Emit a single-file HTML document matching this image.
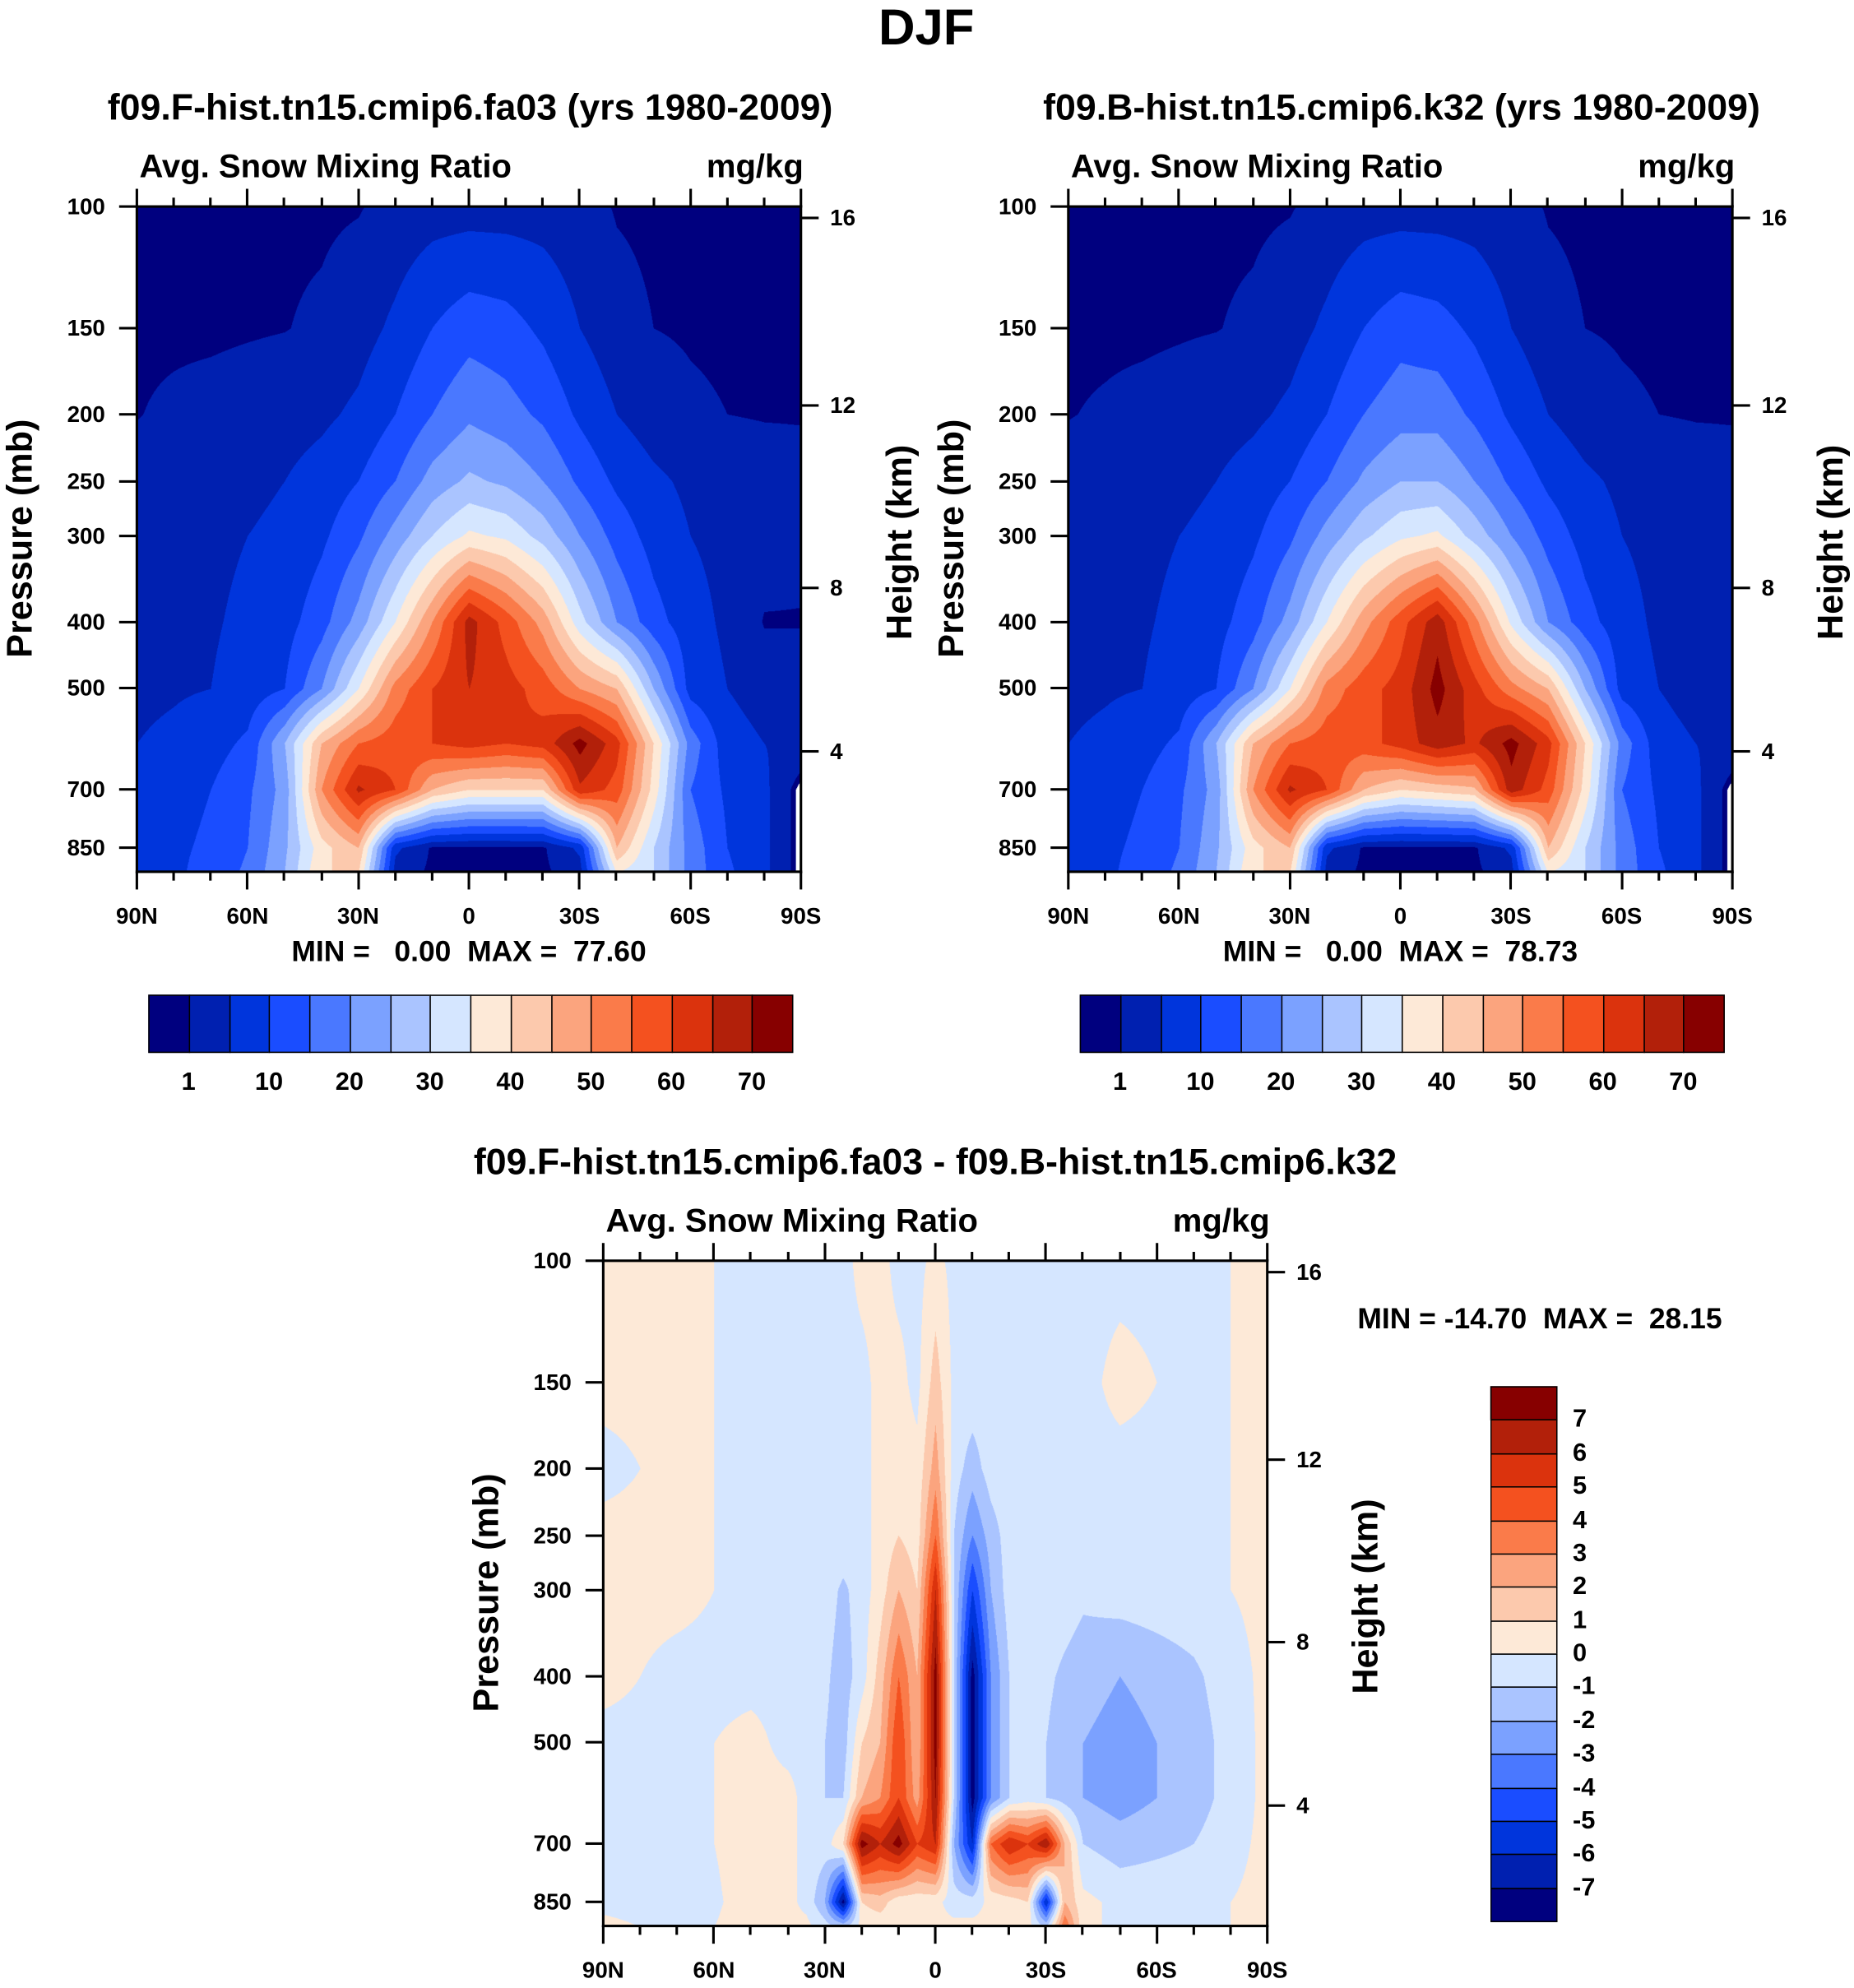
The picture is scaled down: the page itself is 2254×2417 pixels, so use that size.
<!DOCTYPE html>
<html><head><meta charset="utf-8">
<style>
html,body{margin:0;padding:0;background:#fff;}
body{width:2254px;height:2417px;overflow:hidden;}
#root{position:absolute;left:0;top:0;width:1463px;height:1569px;transform-origin:0 0;transform:scale(1.5407,1.5405);font-family:"Liberation Sans",Arial,sans-serif;font-weight:bold;color:#000;}
.t{position:absolute;white-space:nowrap;line-height:1;}
.ln{position:absolute;background:#000;}
canvas{position:absolute;}
</style></head>
<body>
<div id="root"></div>
<script>
// ---------- DATA ----------
const levs = [100,150,200,250,300,400,500,600,700,850,925];
const lats1 = [90,80,70,60,50,40,30,20,10,0,-10,-20,-30,-40,-50,-60,-70,-80,-90];
const gridF = [
 [0.5,0.5,0.5,0.5,0.5,0.5,0.8,2,3,3,3,3,2,0.8,0.5,0.5,0.5,0.5,0.5],
 [0.5,0.5,0.5,0.7,0.9,1.5,3,6,10,13,12,9,5,2,1,0.7,0.5,0.5,0.5],
 [0.9,1.5,2,2.5,3,4,6,10,15,19,17,14,9,5,2.5,1.5,1,0.8,0.8],
 [2,3,3.5,4,5,7,10,15,22,26,24,20,14,9,6,4,3,2.5,2],
 [3,3.5,4,5,6,9,14,22,30,36,34,28,20,13,8,5,3.5,2.5,2],
 [3.5,4,4.5,6,8,13,22,35,50,67,58,48,32,20,12,7,4,0.8,0.8],
 [4,4.5,5,7,10,20,35,52,60,65,62,58,50,45,25,8,5,3,3],
 [5,6,8,11,25,45,55,58,60,62,60,62,72,62,40,18,7,5,4],
 [7,8,10,14,22,50,66,60,45,40,40,40,64,58,38,15,9,6,-1],
 [8,9,11,15,24,38,45,6,0.5,0.3,0.3,0.5,6,45,30,18,10,6,-1],
 [8,9,12,16,25,40,40,3,0.3,0.3,0.3,0.3,3,35,30,18,11,6,-1]
];
const gridB = [
 [0.5,0.5,0.5,0.5,0.5,0.5,0.8,2,3,3,3,3,2,0.8,0.5,0.5,0.5,0.5,0.5],
 [0.5,0.5,0.5,0.7,0.9,1.5,3,6,10,13,12,9,5,2,1,0.7,0.5,0.5,0.5],
 [0.9,1.3,1.8,2.3,3,4,6,10,15,18,18,14,9,5,2.5,1.5,1,0.8,0.8],
 [2,3,3.5,4,5,7,10,15,21,25,25,20,14,9,6,4,3,2.5,2],
 [3,3.5,4,5,6,9,14,22,29,34,36,28,20,13,8,5,3.5,2.5,2],
 [3.5,4,4.5,6,8,13,22,35,48,58,68,52,34,20,12,7,4,1.5,1.5],
 [4,4.5,5,7,10,20,35,52,58,62,72,62,52,45,25,8,5,3,3],
 [5,6,8,11,25,45,55,58,58,62,68,64,72,62,40,18,7,5,4],
 [7,8,10,14,22,50,66,60,45,40,42,44,68,58,38,15,9,6,-1],
 [8,9,11,15,24,38,45,6,0.5,0.3,0.3,0.5,6,45,30,18,10,6,-1],
 [8,9,12,16,25,40,40,3,0.3,0.3,0.3,0.3,3,35,30,18,11,6,-1]
];
const latsD = [90,70,50,40,35,30,25,20,15,10,5,0,-5,-10,-15,-20,-25,-30,-35,-40,-50,-70,-90];
const gridD = [
 [0.3,0.3,-0.3,-0.3,-0.3,-0.3,-0.3,0.3,0.3,-0.3,-0.3,0.3,-0.3,-0.3,-0.3,-0.3,-0.3,-0.3,-0.3,-0.3,-0.3,-0.3,0.3],
 [0.3,0.3,-0.3,-0.3,-0.3,-0.3,-0.3,-0.3,0.3,0.3,-0.3,1.5,-0.3,-0.3,-0.3,-0.3,-0.3,-0.3,-0.3,-0.3,0.3,-0.3,0.3],
 [-0.3,0.3,-0.3,-0.3,-0.3,-0.3,-0.3,-0.3,0.3,0.5,0.3,2.5,-0.5,-1.5,-0.5,-0.3,-0.3,-0.3,-0.3,-0.3,-0.3,-0.3,0.3],
 [0.3,0.3,-0.3,-0.3,-0.3,-0.3,-0.3,-0.3,0.3,1,0.5,4,-1,-3,-1.5,-0.5,-0.3,-0.3,-0.3,-0.3,-0.3,-0.3,0.3],
 [0.3,0.3,-0.3,-0.3,-0.3,-0.5,-1.2,-0.5,0.5,2,1,6,-1,-5,-2,-0.5,-0.3,-0.3,-0.5,-0.8,-0.5,-0.3,0.3],
 [0.3,-0.3,-0.3,-0.3,-0.3,-0.8,-1.5,-0.5,1.5,4,2,7.5,-1,-7.5,-3,-1,-0.5,-0.8,-1.2,-1.5,-2,-1.2,0.3],
 [-0.3,-0.3,0.3,-0.3,-0.3,-1,-1.5,1,2,5,2,7.5,-1,-7.5,-3,-1,-0.5,-1,-1.5,-2,-2.5,-1.5,0.3],
 [-0.3,-0.3,0.3,0.3,-0.3,-1,-1,2,3,5,2.5,7,-1,-7.5,-3,-1,-0.5,-1,-1.5,-2,-2.5,-1.5,0.3],
 [-0.3,-0.3,0.3,0.3,-0.3,-0.5,1,7.5,6,7.5,5,6,-2,-6,4,6,5,7,2,-1,-1.5,-1,0.3],
 [-0.3,-0.5,0.3,0.3,-0.3,-2,-7.5,1,1.5,0.3,0.3,0.3,-0.5,-0.5,0.3,0.5,1,-6,2,0.3,-0.3,-0.3,0.3],
 [0.3,-0.3,0.3,0.3,0.3,-0.5,-1,0.3,0.3,0.3,0.3,0.3,0.3,0.3,0.3,0.3,0.3,-1,4,0.3,-0.3,-0.3,0.3]
];
const thrAbs = [1,5,10,15,20,25,30,35,40,45,50,55,60,65,70];
const thrDiff = [-7,-6,-5,-4,-3,-2,-1,0,1,2,3,4,5,6,7];
const cbLabelsAbs = ['1','10','20','30','40','50','60','70'];
const cbLabelsDiff = ['7','6','5','4','3','2','1','0','-1','-2','-3','-4','-5','-6','-7'];
const presTicks = [100,150,200,250,300,400,500,700,850];
const heightTicks = ['16','12','8','4'];
const latTickLabels = ['90N','60N','30N','0','30S','60S','90S'];
const colors = ['#00007f','#0020b0','#0035dc','#1a4dff','#4a78ff','#7ba1ff','#aac4ff','#d5e6ff','#fde9d7','#fcc9ad','#fba47e','#fa7b4a','#f4511f','#db330d','#b2200a','#870000'];

// ---------- HELPERS ----------
const root = document.getElementById('root');
function txt(x,y,s,size,anchor,name){
  const d=document.createElement('div');
  d.className='t'; d.textContent=s; d.style.fontSize=size+'px';
  d.style.left=x+'px'; d.style.top=y+'px';
  const tx = anchor==='start'?'0':anchor==='end'?'-100%':'-50%';
  d.style.transform='translate('+tx+',-50%)';
  
  
  root.appendChild(d); return d;
}
function line(x,y,w,h,name){
  const d=document.createElement('div'); d.className='ln';
  d.style.left=x+'px'; d.style.top=y+'px'; d.style.width=w+'px'; d.style.height=h+'px';
  
  
  root.appendChild(d); return d;
}
const W=524, H=525, K=236.4;
function yP(p){return K*Math.log(p/100);}
function hexRGB(h){return [parseInt(h.slice(1,3),16),parseInt(h.slice(3,5),16),parseInt(h.slice(5,7),16)];}
function sample(lats,grid,lat,lnp){
  const lv=levs.map(p=>Math.log(p));
  let j=0; while(j<lv.length-2 && lnp>lv[j+1]) j++;
  let fy=(lnp-lv[j])/(lv[j+1]-lv[j]); fy=Math.max(0,Math.min(1,fy));
  let i=0; while(i<lats.length-2 && lat<lats[i+1]) i++;
  let fx=(lats[i]-lat)/(lats[i]-lats[i+1]); fx=Math.max(0,Math.min(1,fx));
  const a=grid[j][i],b=grid[j][i+1],c=grid[j+1][i],d=grid[j+1][i+1];
  return (a*(1-fx)+b*fx)*(1-fy)+(c*(1-fx)+d*fx)*fy;
}
function panel(ox,oy,lats,grid,thr,name,whiteNeg){
  const cv=document.createElement('canvas');
  cv.width=W*2; cv.height=H*2;
  cv.style.left=ox+'px'; cv.style.top=oy+'px'; cv.style.width=W+'px'; cv.style.height=H+'px';
  
  
  root.appendChild(cv);
  const ctx=cv.getContext('2d'); const img=ctx.createImageData(cv.width,cv.height);
  const rgb=colors.map(hexRGB);
  for(let py=0;py<cv.height;py++){
    const lnp=Math.log(100)+(py/2)/K;
    for(let px=0;px<cv.width;px++){
      const lat=90-(px/2)/W*180;
      const v=sample(lats,grid,lat,lnp);
      let c;
      if(whiteNeg && v<0) c=[255,255,255];
      else { let k=0; while(k<thr.length && v>=thr[k]) k++; c=rgb[k]; }
      const o=(py*cv.width+px)*4; img.data[o]=c[0];img.data[o+1]=c[1];img.data[o+2]=c[2];img.data[o+3]=255;
    }
  }
  ctx.putImageData(img,0,0);
  line(ox-1,oy-1,W+2,2,name+'-frame-top'); line(ox-1,oy+H-1,W+2,2,name+'-frame-bottom');
  line(ox-1,oy-1,2,H+2,name+'-frame-left'); line(ox+W-1,oy-1,2,H+2,name+'-frame-right');
  presTicks.forEach(p=>{const y=oy+yP(p); line(ox-14,y-1,14,2,'pressure-tick'); txt(ox-25,y,String(p),18,'end','pressure-tick-label');});
  const hOff=[9,157,301,430];
  heightTicks.forEach((h,k)=>{const y=oy+hOff[k]; line(ox+W,y-1,14,2,'height-tick'); txt(ox+W+23,y,h,18,'start','height-tick-label');});
  for(let l=0;l<=18;l++){
    const x=ox+l*W/18, major=l%3===0, len=major?14:7;
    line(x-1,oy-len,2,len,'lat-tick-top'); line(x-1,oy+H,2,len,'lat-tick-bottom');
  }
  latTickLabels.forEach((s,k)=>txt(ox+k*W/6,oy+H+35,s,18,'middle','lat-tick-label'));
  txt(ox+2,oy-32,'Avg. Snow Mixing Ratio',26,'start',name+'-left-string');
  txt(ox+W+2,oy-32,'mg/kg',26,'end',name+'-units');
  const pt=txt(ox-92,oy+262,'Pressure (mb)',28,'middle','pressure-axis-title'); pt.style.transform='translate(-50%,-50%) rotate(-90deg)';
  const ht=txt(ox+W+78,oy+265,'Height (km)',28,'middle','height-axis-title'); ht.style.transform='translate(-50%,-50%) rotate(-90deg)';
}
function hbar(ox,oy,name){
  const bw=31.75;
  colors.forEach((c,k)=>{const d=document.createElement('div');d.style.cssText='position:absolute;box-sizing:border-box;border:1px solid #000;left:'+(ox+k*bw)+'px;top:'+oy+'px;width:'+(bw+1)+'px;height:46px;background:'+c;
      root.appendChild(d);});
  cbLabelsAbs.forEach((s,k)=>txt(ox+(2*k+1)*bw,oy+69,s,20,'middle',name+'-label'));
}

// ---------- LAYOUT ----------
txt(731,22,'DJF',40,'middle','figure-title');
txt(371,86,'f09.F-hist.tn15.cmip6.fa03 (yrs 1980-2009)',29,'middle','left-panel-title');
txt(1106,86,'f09.B-hist.tn15.cmip6.k32 (yrs 1980-2009)',29,'middle','right-panel-title');
panel(108,163,lats1,gridF,thrAbs,'panel-f',true);
panel(843,163,lats1,gridB,thrAbs,'panel-b',true);
let m1=txt(370,751,'MIN =   0.00  MAX =  77.60',23,'middle','left-min-max'); m1.style.whiteSpace='pre';
let m2=txt(1105,751,'MIN =   0.00  MAX =  78.73',23,'middle','right-min-max'); m2.style.whiteSpace='pre';
hbar(117,785,'left-colorbar');
hbar(852,785,'right-colorbar');
txt(738,918,'f09.F-hist.tn15.cmip6.fa03 - f09.B-hist.tn15.cmip6.k32',29,'middle','diff-panel-title');
panel(476,995,latsD,gridD,thrDiff,'panel-diff',false);
const mm=txt(1215,1041,'MIN = -14.70  MAX =  28.15',23,'middle','diff-min-max'); mm.style.whiteSpace='pre';
const vh=26.375;
for(let k=0;k<16;k++){
  const d=document.createElement('div');
  d.style.cssText='position:absolute;box-sizing:border-box;border:1px solid #000;left:1176px;top:'+(1094+k*vh)+'px;width:53px;height:'+(vh+1)+'px;background:'+colors[15-k];
  
  
  root.appendChild(d);
}
cbLabelsDiff.forEach((s,k)=>txt(1241,1094+(k+1)*vh,s,20,'start','diff-colorbar-label'));
</script>
</body></html>
